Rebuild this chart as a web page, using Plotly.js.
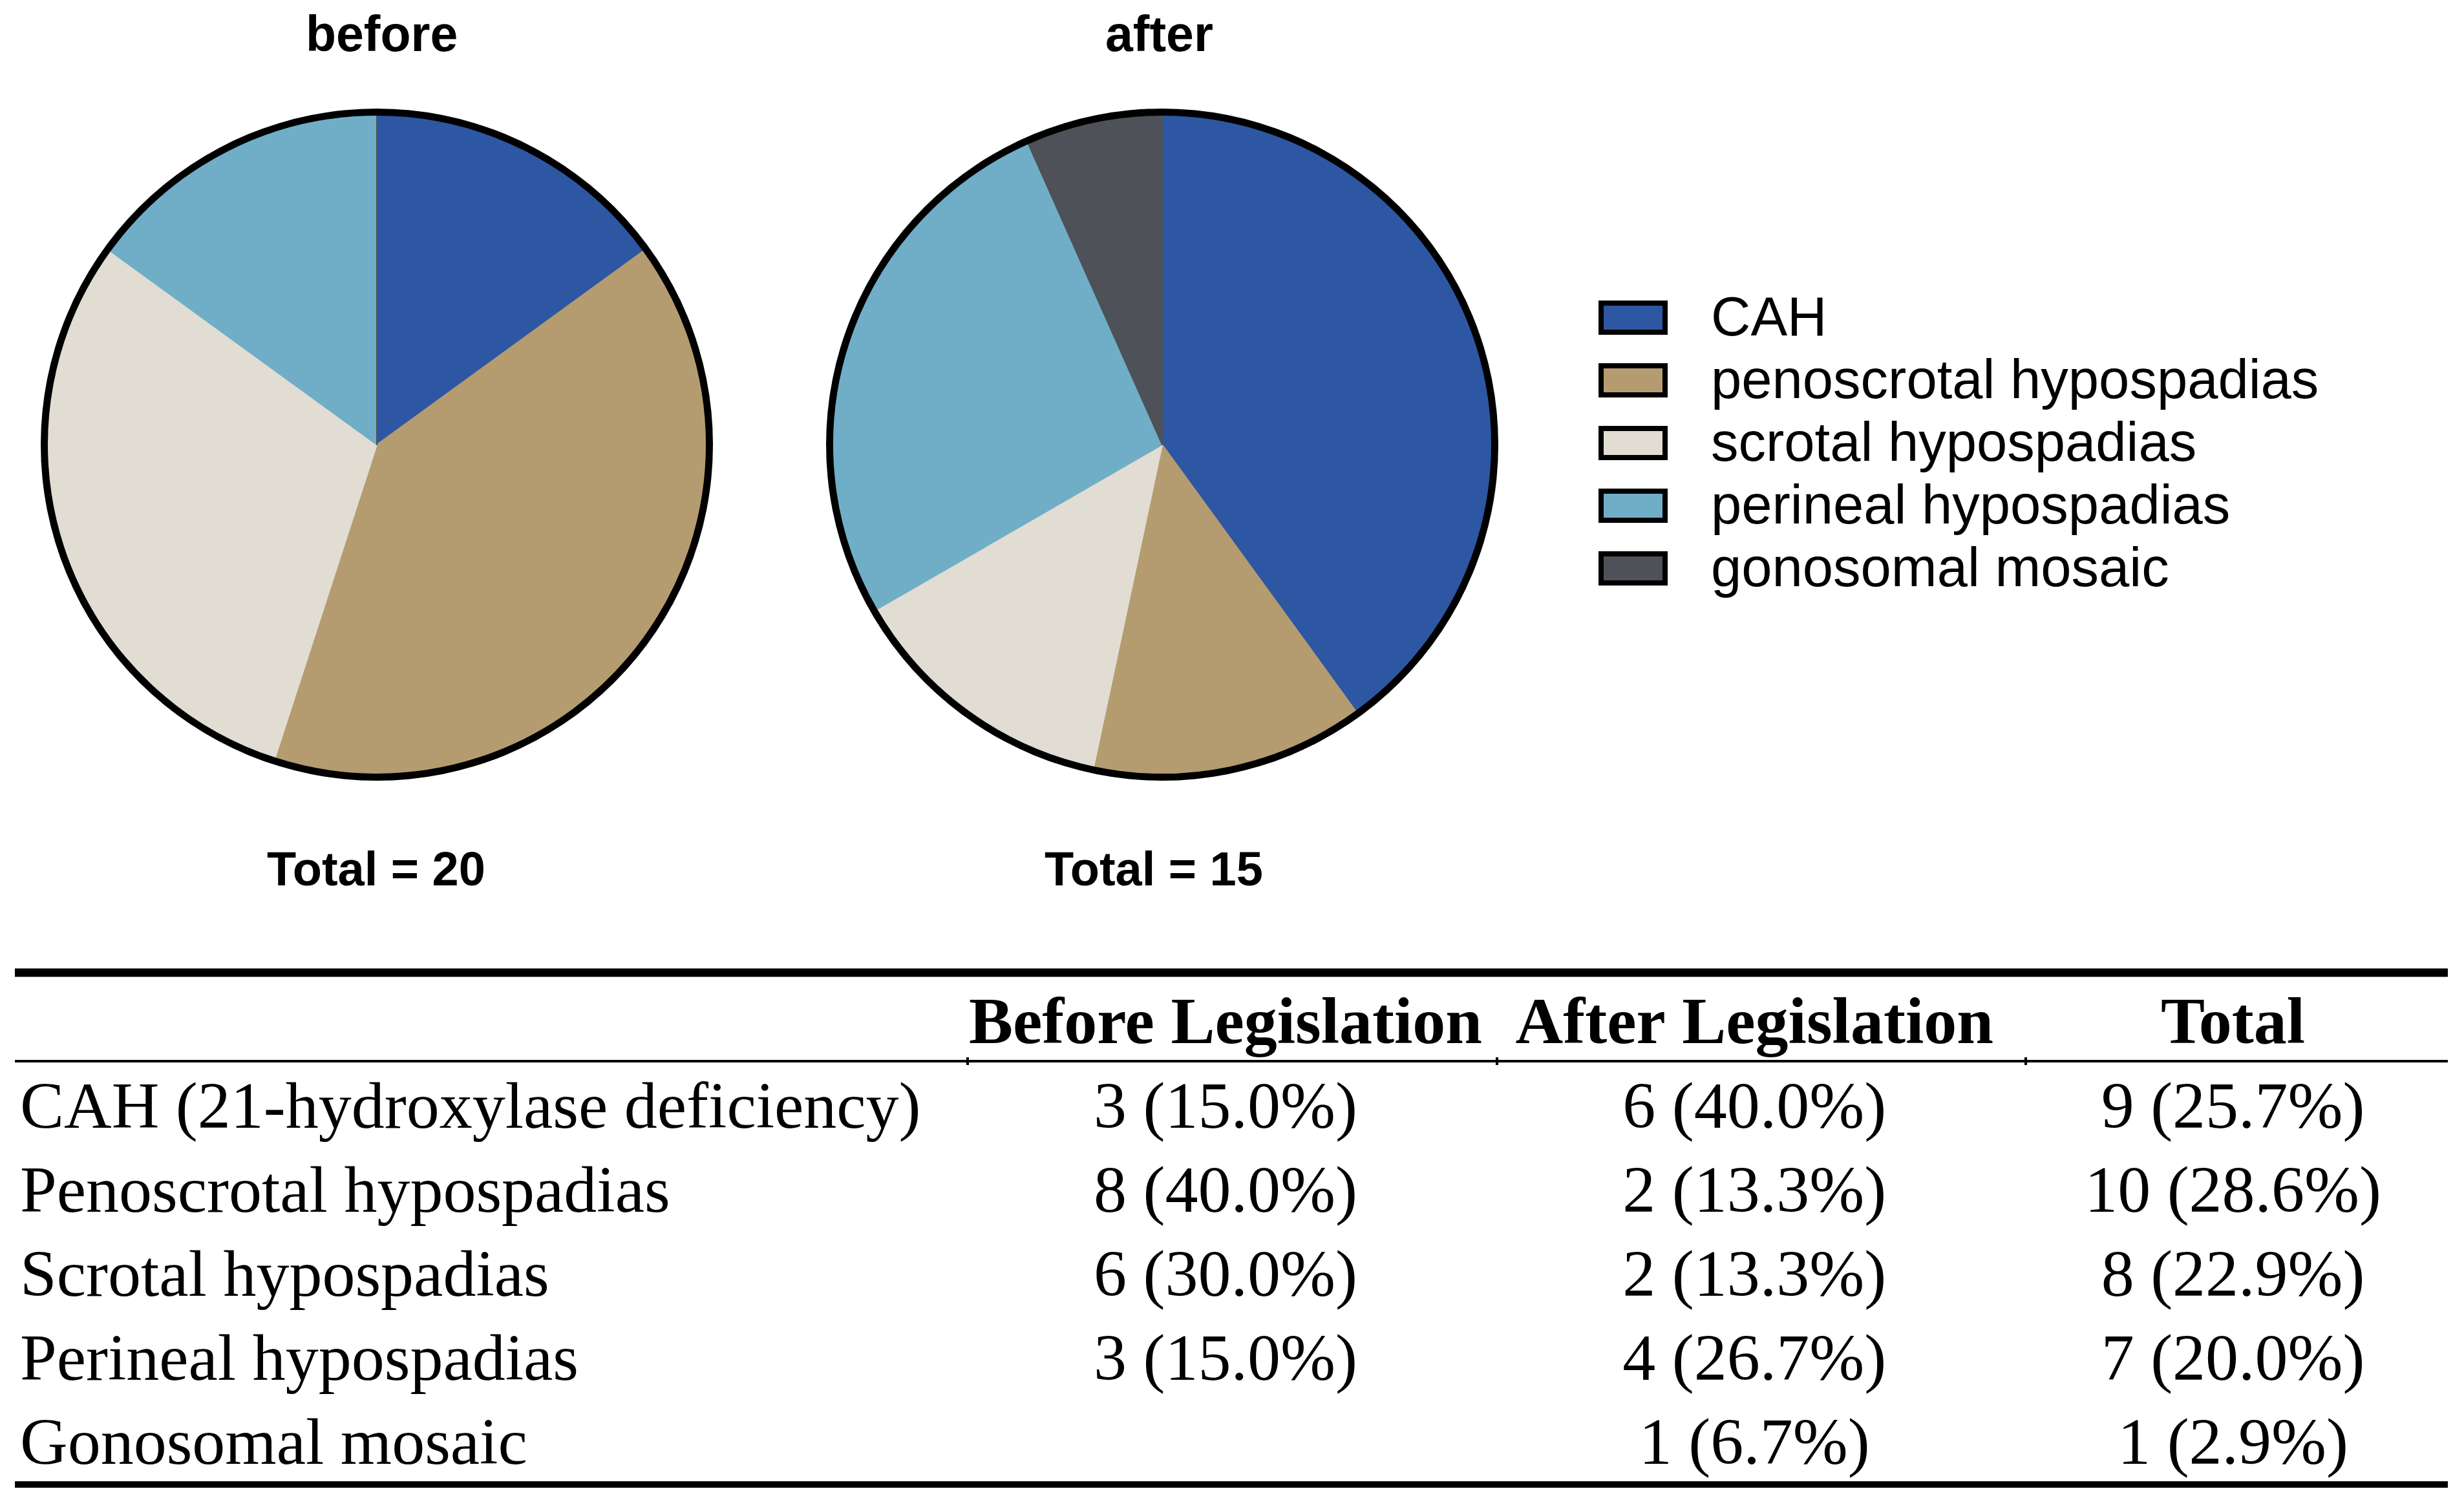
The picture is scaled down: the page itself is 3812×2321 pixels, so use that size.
<!DOCTYPE html>
<html>
<head>
<meta charset="utf-8">
<script src="https://cdn.plot.ly/plotly-3.0.1.min.js"></script>
<style>html,body{margin:0;padding:0;background:#fff;}</style>
</head>
<body>
<div id="chart" style="width:3812px;height:2321px;"></div>
<script>
// ---------- data ----------
const categories = ['CAH', 'penoscrotal hypospadias', 'scrotal hypospadias', 'perineal hypospadias', 'gonosomal mosaic'];
const sliceColors = ['#2E57A3', '#B59C70', '#E1DDD3', '#70AEC8', '#4E5157'];
const beforeCounts = [3, 8, 6, 3, 0];
const afterCounts = [6, 2, 2, 4, 1];
const beforeTotal = 20;
const afterTotal = 15;

const tableRowLabels = ['CAH (21-hydroxylase deficiency)', 'Penoscrotal hypospadias', 'Scrotal hypospadias', 'Perineal hypospadias', 'Gonosomal mosaic'];
const tableHeaders = ['', 'Before Legislation', 'After Legislation', 'Total'];
const beforePct = ['15.0', '40.0', '30.0', '15.0', null];
const afterPct = ['40.0', '13.3', '13.3', '26.7', '6.7'];
const totalCounts = [9, 10, 8, 7, 1];
const totalPct = ['25.7', '28.6', '22.9', '20.0', '2.9'];

// ---------- layout helpers (pixel -> paper) ----------
const W = 3812, H = 2321;
const px = x => x / W;
const py = y => 1 - y / H;
function dom(cx, cy, r) {
  return {x: [px(cx - r), px(cx + r)], y: [py(cy + r), py(cy - r)]};
}
const nb = s => s.replace(/ /g, '\u00A0');
const fmt = (n, p) => (n ? nb(n + ' (' + p + '%)') : '');

const pies = [
  {cx: 583, cy: 688, counts: beforeCounts, title: 'before', total: beforeTotal, tx: 590},
  {cx: 1798, cy: 688, counts: afterCounts, title: 'after', total: afterTotal, tx: 1793}
];
const rInner = 508, rOuter = 520;

const traces = [];
const annotations = [];
pies.forEach(p => {
  traces.push({
    type: 'pie', values: [1], labels: ['outline'], sort: false,
    marker: {colors: ['#000000'], line: {width: 0}},
    textinfo: 'none', hoverinfo: 'skip', showlegend: false,
    domain: dom(p.cx, p.cy, rOuter)
  });
  traces.push({
    type: 'pie', values: p.counts, labels: categories, sort: false,
    direction: 'clockwise', rotation: 0,
    marker: {colors: sliceColors, line: {color: sliceColors, width: 2}},
    textinfo: 'none', hoverinfo: 'label+value', showlegend: false,
    domain: dom(p.cx, p.cy, rInner)
  });
  annotations.push({
    text: '<b>' + p.title + '</b>', xref: 'paper', yref: 'paper',
    x: px(p.tx), y: py(79 - 0.3465 * 77), xanchor: 'center', yanchor: 'middle',
    showarrow: false, font: {family: 'Liberation Sans', size: 77, color: '#000'}
  });
  annotations.push({
    text: '<b>Total = ' + p.total + '</b>', xref: 'paper', yref: 'paper',
    x: px(p.tx - 8), y: py(1344), xanchor: 'center', yanchor: 'middle',
    showarrow: false, font: {family: 'Liberation Sans', size: 74, color: '#000'}
  });
});

// ---------- legend (drawn with shapes + annotations) ----------
const shapes = [];
const legX0 = 2473, legW = 107, legH = 53, legTop = 465, legStep = 97, legBorder = 8;
categories.forEach((c, i) => {
  const top = legTop + i * legStep;
  shapes.push({
    type: 'rect', xref: 'paper', yref: 'paper',
    x0: px(legX0 + legBorder / 2), x1: px(legX0 + legW - legBorder / 2),
    y0: py(top + legBorder / 2), y1: py(top + legH - legBorder / 2),
    fillcolor: sliceColors[i], line: {color: '#000', width: legBorder}
  });
  annotations.push({
    text: c, xref: 'paper', yref: 'paper',
    x: px(2645), y: py(519 + i * legStep - 0.3465 * 85), xanchor: 'left', yanchor: 'middle',
    showarrow: false, font: {family: 'Liberation Sans', size: 85, color: '#000'}
  });
});

// ---------- table ----------
const tblX0 = 23, tblX1 = 3787, tblTop = 1529;
const colWidths = [1464, 819, 818, 663];
const colBounds = [1497, 2316, 3134];
traces.push({
  type: 'table',
  domain: {x: [px(tblX0), px(tblX1)], y: [py(2321), py(tblTop)]},
  columnwidth: colWidths,
  header: {
    values: tableHeaders.map(nb),
    align: ['left', 'center', 'center', 'center'],
    height: 131,
    fill: {color: 'rgba(0,0,0,0)'},
    line: {color: 'rgba(0,0,0,0)', width: 0},
    font: {family: 'Liberation Serif', size: 102, color: '#000', weight: 'bold'}
  },
  cells: {
    values: [
      tableRowLabels.map(nb),
      beforeCounts.map((n, i) => fmt(n, beforePct[i])),
      afterCounts.map((n, i) => fmt(n, afterPct[i])),
      totalCounts.map((n, i) => fmt(n, totalPct[i]))
    ],
    align: ['left', 'center', 'center', 'center'],
    height: 130,
    fill: {color: 'rgba(0,0,0,0)'},
    line: {color: 'rgba(0,0,0,0)', width: 0},
    font: {family: 'Liberation Serif', size: 102, color: '#000'}
  }
});

// booktabs-style rules
shapes.push({type: 'line', xref: 'paper', yref: 'paper', x0: px(tblX0), x1: px(tblX1), y0: py(1505), y1: py(1505), line: {color: '#000', width: 13}});
shapes.push({type: 'line', xref: 'paper', yref: 'paper', x0: px(tblX0), x1: px(tblX1), y0: py(1642), y1: py(1642), line: {color: '#000', width: 4}});
shapes.push({type: 'line', xref: 'paper', yref: 'paper', x0: px(tblX0), x1: px(tblX1), y0: py(2297), y1: py(2297), line: {color: '#000', width: 10}});
colBounds.forEach(b => {
  shapes.push({type: 'line', xref: 'paper', yref: 'paper', x0: px(b), x1: px(b), y0: py(1636), y1: py(1648), line: {color: '#000', width: 4}});
});

const layout = {
  width: W, height: H,
  margin: {l: 0, r: 0, t: 0, b: 0},
  paper_bgcolor: '#ffffff', plot_bgcolor: '#ffffff',
  showlegend: false,
  shapes: shapes,
  annotations: annotations
};

Plotly.newPlot('chart', traces, layout, {staticPlot: true, displayModeBar: false});
</script>
</body>
</html>
